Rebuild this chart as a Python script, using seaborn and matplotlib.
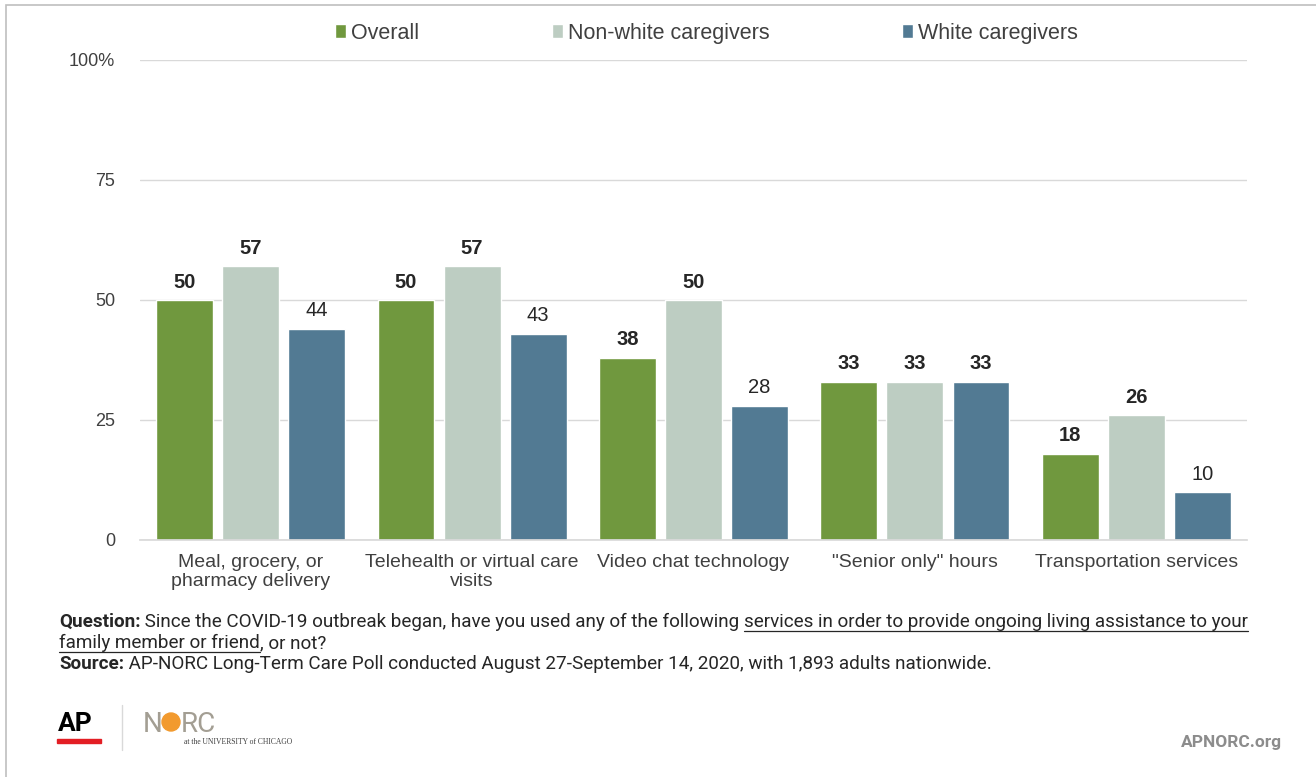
import matplotlib.pyplot as plt
import pandas as pd
import seaborn as sns
from matplotlib.patches import Patch, Rectangle, Ellipse
from matplotlib.lines import Line2D

categories = ["Meal, grocery, or\npharmacy delivery",
              "Telehealth or virtual care\nvisits",
              "Video chat technology",
              "\"Senior only\" hours",
              "Transportation services"]
series = ["Overall", "Non-white caregivers", "White caregivers"]
overall = [50, 50, 38, 33, 18]
nonwhite = [57, 57, 50, 33, 26]
white = [44, 43, 28, 33, 10]
# bold labels mark the highlighted values in the original
bold_overall = [True, True, True, True, True]
bold_nonwhite = [True, True, True, True, True]
bold_white = [False, False, False, True, False]
yticks = [0, 25, 50, 75, 100]
ytick_labels = ["0", "25", "50", "75", "100%"]

colors = {"Overall": "#70983E", "Non-white caregivers": "#BDCDC2",
          "White caregivers": "#527A93"}
GREY = "#404040"

df = pd.DataFrame({
    "category": categories * 3,
    "group": [s for s in series for _ in categories],
    "value": overall + nonwhite + white,
})

sns.set_theme(style="white")
plt.rcParams["font.family"] = ["Liberation Sans", "DejaVu Sans"]

fig = plt.figure(figsize=(13.16, 7.77), dpi=100)
ax = fig.add_axes([140 / 1316, 1 - 540 / 777, 1107 / 1316, 480 / 777])

sns.barplot(data=df, x="category", y="value", hue="group", order=categories,
            hue_order=series, palette=colors, width=0.895, gap=0.14,
            saturation=1, ax=ax, legend=False)

ax.set_ylim(0, 100)
ax.set_xlim(-0.5, len(categories) - 0.5)
ax.set_yticks(yticks, ytick_labels)
ax.yaxis.grid(True, color="#D9D9D9", linewidth=1)
ax.set_axisbelow(True)
for s in ["top", "right", "left"]:
    ax.spines[s].set_visible(False)
ax.spines["bottom"].set_color("#D9D9D9")
ax.tick_params(axis="y", length=0, colors=GREY, labelsize=13, pad=18)
ax.tick_params(axis="x", length=0, colors=GREY, labelsize=14, pad=10)
ax.set_xlabel("")
ax.set_ylabel("")

bold_flags = [bold_overall, bold_nonwhite, bold_white]
for cont, flags in zip(ax.containers, bold_flags):
    labels = [f"{b.get_height():.0f}" for b in cont]
    for bar, lab, fb in zip(cont, labels, flags):
        ax.annotate(lab, (bar.get_x() + bar.get_width() / 2, bar.get_height()),
                    xytext=(0, 6), textcoords="offset points", ha="center",
                    va="bottom", fontsize=14.5,
                    fontweight="bold" if fb else "normal", color="#262626")

handles = [Patch(facecolor=colors[s], label=s) for s in series]
fig.legend(handles=handles, loc="center", bbox_to_anchor=(0.537, 0.9575),
           ncol=3, frameon=False, fontsize=15.5, handlelength=0.5,
           handleheight=0.6, handletextpad=0.25, columnspacing=6.15,
           labelcolor=GREY)

# outer frame
fig.patches.append(Rectangle((6 / 1316, -0.05), 1.1, 1 - 5 / 777 + 0.05,
                             transform=fig.transFigure, fill=False,
                             edgecolor="#BFBFBF", linewidth=1.2))

# footnote, drawn piece by piece so parts can be underlined
renderer = fig.canvas.get_renderer()
FOOT = dict(fontsize=13.6, color="#262626", family=["Roboto", "DejaVu Sans"])


def write_line(pieces, x0, y):
    x = x0
    for text, weight, underline in pieces:
        t = fig.text(x, y, text, fontweight=weight, ha="left", va="baseline",
                     **FOOT)
        bb = t.get_window_extent(renderer)
        x1 = x + bb.width / fig.bbox.width
        if underline:
            yl = y - 4 / fig.bbox.height
            fig.add_artist(Line2D([x, x1], [yl, yl], transform=fig.transFigure,
                                  color="#262626", linewidth=0.9))
        x = x1


x0 = 59 / 1316
write_line([("Question:", "bold", False),
            (" Since the COVID-19 outbreak began, have you used any of the following ", "normal", False),
            ("services in order to provide ongoing living assistance to your", "normal", True)],
           x0, 1 - 627 / 777)
write_line([("family member or friend", "normal", True),
            (", or not?", "normal", False)], x0, 1 - 648 / 777)
write_line([("Source:", "bold", False),
            (" AP-NORC Long-Term Care Poll conducted August 27-September 14, 2020, with 1,893 adults nationwide.", "normal", False)],
           x0, 1 - 669 / 777)

# logos
fig.text(58 / 1316, 1 - 731 / 777, "AP", fontsize=19, fontweight="bold",
         color="black", family=["Roboto", "DejaVu Sans"])
fig.patches.append(Rectangle((57 / 1316, 1 - 743 / 777), 44 / 1316, 4 / 777,
                             transform=fig.transFigure, color="#E31E24"))
fig.add_artist(Line2D([122 / 1316] * 2, [1 - 705 / 777, 1 - 750 / 777],
                      transform=fig.transFigure, color="#D9D9D9", linewidth=1))
fig.text(143 / 1316, 1 - 732 / 777, "N", fontsize=20, color="#A39E93",
         family=["Roboto", "DejaVu Sans"])
fig.patches.append(Ellipse((171 / 1316, 1 - 722 / 777), 18 / 1316, 18 / 777,
                           transform=fig.transFigure, color="#F29A2E"))
fig.text(181 / 1316, 1 - 732 / 777, "RC", fontsize=20, color="#A39E93",
         family=["Roboto", "DejaVu Sans"])
fig.text(184 / 1316, 1 - 744 / 777, "at the UNIVERSITY of CHICAGO",
         fontsize=5.5, color="#404040", family=["Liberation Serif", "DejaVu Serif"])
fig.text(1282 / 1316, 1 - 747 / 777, "APNORC.org", fontsize=12.5,
         color="#8C8C8C", ha="right", fontweight="bold",
         family=["Roboto", "DejaVu Sans"])

fig.savefig("out.png", dpi=100)
